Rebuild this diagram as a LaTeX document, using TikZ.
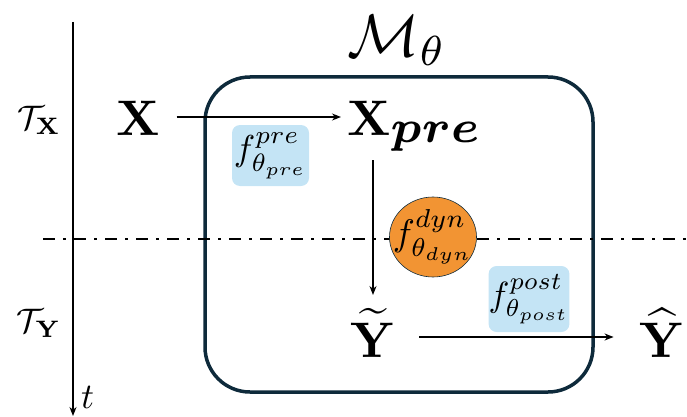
\documentclass[tikz,border=0pt]{standalone}
\usepackage{amsmath,bm}
\usetikzlibrary{arrows.meta,shapes.geometric,calc}
\definecolor{framenavy}{HTML}{0E2A3B}
\definecolor{boxblue}{HTML}{C4E4F5}
\definecolor{dynorange}{HTML}{F29433}
% text set at 10pt and enlarged
\newcommand{\sz}[2]{\scalebox{#1}{#2}}
\begin{document}
\begin{tikzpicture}[x=1pt,y=-1pt,
  lbl/.style={inner sep=0pt, outer sep=0pt},
  arr/.style={-{Stealth[length=9pt,width=7pt]}, line width=1.3pt},
  fbox/.style={fill=boxblue, rounded corners=8pt, inner sep=0pt},
  model/.style={draw=framenavy, line width=3.5pt, rounded corners=45pt, inner sep=0pt}]
\useasboundingbox (0,0) rectangle (687,417);

% model frame and its title
\node[model, minimum width=388pt, minimum height=315pt] (frame) at (399,234.5) {};
\node[lbl] (mtitle) at (397,41) {\sz{6}{$\mathcal{M}_\theta$}};

% time axis and the split between input and output horizons
\coordinate (ttop) at (73,22);
\coordinate (tbot) at (73,416);
\draw[arr] (ttop) -- (tbot);
\node[lbl, anchor=base west] (tlab) at (81,408) {\sz{3.6}{$t$}};
\coordinate (sl) at (43,239);
\coordinate (sr) at (687,239);
\draw[line width=1.6pt, dash pattern=on 12pt off 8pt on 3pt off 8pt] (sl) -- (sr);

\node[lbl] (tx) at (39,120) {\sz{3.4}{$\mathcal{T}_{\mathbf{X}}$}};
\node[lbl] (ty) at (39,323) {\sz{3.4}{$\mathcal{T}_{\mathbf{Y}}$}};

% variables
\node[lbl, anchor=base] (X) at (138,135) {\sz{5}{$\mathbf{X}$}};
\node[lbl, anchor=base west] (Xpre) at (347,135) {\sz{5}{$\mathbf{X}_{\scalebox{1.3}{$\scriptstyle\bm{pre}$}}$}};
\node[lbl, anchor=base] (Yt) at (373,357) {\sz{5}{$\widetilde{\mathbf{Y}}$}};
\node[lbl, anchor=base] (Yh) at (662,357) {\sz{5}{$\widehat{\mathbf{Y}}$}};

% mappings
\node[fbox, minimum width=77pt, minimum height=61pt] (fpre) at (270.5,155.5) {\sz{3.6}{$f^{pre}_{\theta_{pre}}$}};
\node[fbox, minimum width=76pt, minimum height=66pt] (fpost) at (529,299) {\sz{3.5}{$f^{post}_{\theta_{post}}$}};
\node[ellipse, fill=dynorange, draw=framenavy, line width=0.6pt, minimum width=87pt, minimum height=80pt, inner sep=0pt] (fdyn) at (433,237) {};
\node[lbl] (fdynlab) at (fdyn.center) {\sz{3.7}{$f^{dyn}_{\theta_{dyn}}$}};

% connectors
\draw[arr] ($(X.base east)+(17,-18)$) -- ($(Xpre.base west)+(-6,-18)$);
\draw[arr] ($(Yt.base)+(0,-197)$) -- ($(Yt.base)+(0,-62)$);
\draw[arr] ($(Yt.base east)+(24,-20)$) -- ($(Yh.base west)+(-26,-20)$);
\end{tikzpicture}
\end{document}
